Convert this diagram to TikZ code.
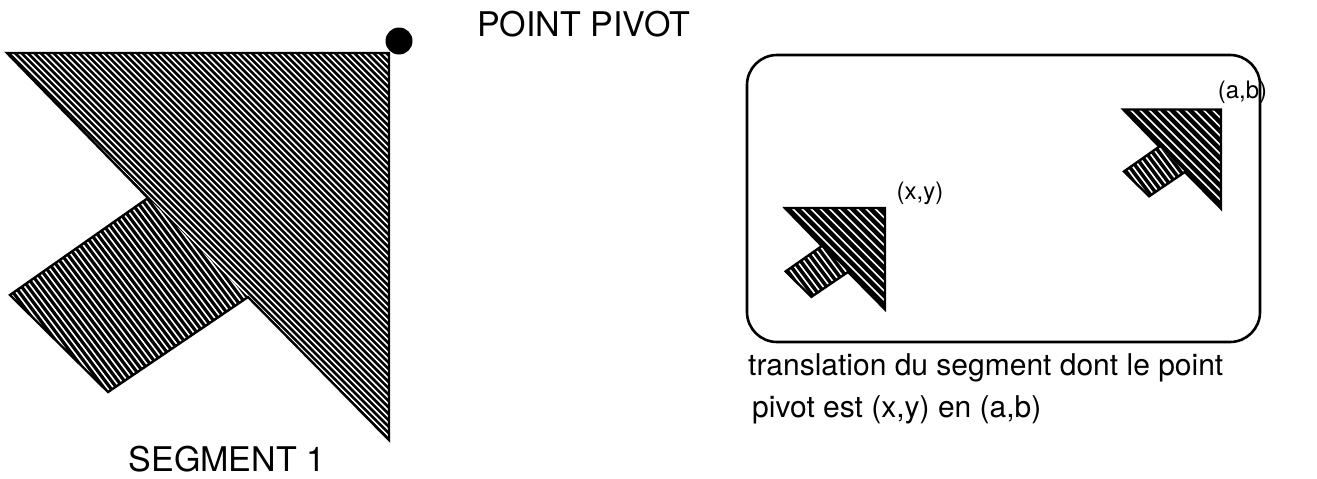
\documentclass[tikz,border=0pt]{standalone}
\usepackage{fontspec}
\setmainfont{TeX Gyre Heros}
\tikzset{
  bigtxt/.style={font=\fontsize{34}{40}\selectfont, inner sep=0pt},
  captxt/.style={font=\fontsize{30}{36}\selectfont, inner sep=0pt, anchor=base west},
  lbltxt/.style={font=\fontsize{24}{28}\selectfont, inner sep=0pt},
}
% #1 pivot, #2 scale, #3 head step, #4 stripe width, #5 outline width, #6 shaft step
\newcommand{\hatchseg}[6]{%
  \begin{scope}[shift={(#1)},scale=#2]
    \fill (-382,0) -- (0,0) -- (0,387) -- (-141,244) -- (-281,339) -- (-379,242) -- (-241,145) -- cycle;
    \pgfmathtruncatemacro{\nhead}{400/#3}
    \pgfmathtruncatemacro{\nshaft}{250/#6}
    \begin{scope}
      \clip (-382,0) -- (0,0) -- (0,387) -- cycle;
      \foreach \i in {0,...,\nhead}
        \draw[white,line width=#4] ({-400+\i*#3},-10) -- ({10+\i*#3},400);
    \end{scope}
    \begin{scope}
      \clip (-241,145) -- (-141,244) -- (-281,339) -- (-379,242) -- cycle;
      \foreach \i in {0,...,\nshaft}
        \draw[white,line width=#4] ({-490+\i*#6},100) -- ({-295+\i*#6},360);
    \end{scope}
    \draw[line width=#5] (-382,0) -- (0,0) -- (0,387) -- (-141,244) -- (-281,339) -- (-379,242) -- (-241,145) -- cycle;
  \end{scope}}
\begin{document}
\begin{tikzpicture}[x=1pt,y=-1pt]
    \useasboundingbox (0,0) rectangle (1317,479);
    % Большой сегмент и его точка поворота
    \coordinate (pivotA) at (389,53);
    \hatchseg{pivotA}{1}{6.4}{1.6pt}{2.4pt}{6.4}
    \fill (pivotA) ++(10,-12) circle[radius=13.5pt];
    \node[bigtxt,anchor=base] (pivotlbl) at (583.5,36.7) {POINT PIVOT};
    \node[bigtxt,anchor=base] (seglbl) at (227,471.5) {SEGMENT 1};
    % Cadre de la translation
    \draw[line width=2.6pt,rounded corners=30pt] (747,55) rectangle (1260,342);
    \coordinate (pivotXY) at (885,208);
    \coordinate (pivotAB) at (1221,109.5);
    \hatchseg{pivotXY}{0.262}{35}{1.6pt}{2.4pt}{26}
    \hatchseg{pivotAB}{0.256}{35.5}{1.6pt}{2.4pt}{26.5}
    \node[lbltxt] (xylbl) at (920,193) {(x,y)};
    \node[lbltxt] (ablbl) at (1242.5,92) {(a,b)};
    \node[captxt] (cap1) at (748,375) {translation du segment dont le point};
    \node[captxt] (cap2) at (752,417) {pivot est (x,y) en (a,b)};
\end{tikzpicture}
\end{document}
